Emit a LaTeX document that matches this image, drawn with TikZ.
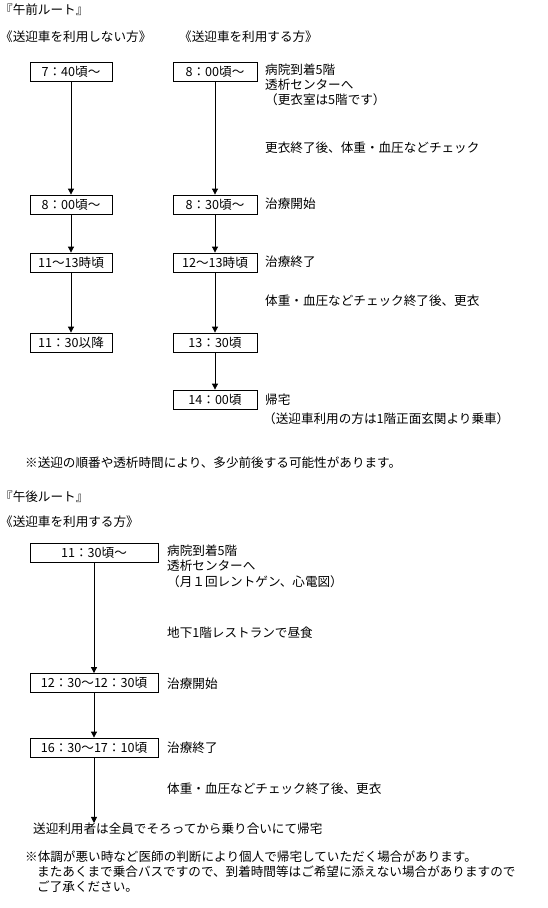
\documentclass[tikz,border=0pt]{standalone}
\usepackage{fontspec}
\setmainfont{Noto Sans CJK JP}
\usetikzlibrary{arrows.meta}
\begin{document}
\begin{tikzpicture}[x=1pt,y=-1pt,
  every node/.style={font=\fontsize{12.6}{14}\selectfont, inner sep=0pt},
  tbox/.style={draw, line width=0.8pt, minimum height=19pt, align=center},
  lcol/.style={tbox, minimum width=82pt},
  rcol/.style={tbox, minimum width=84pt},
  pcol/.style={tbox, minimum width=128pt},
  lbl/.style={anchor=west},
  conn/.style={line width=0.8pt, -{Triangle[length=6pt,width=6pt]}}]
\fill[white] (0,0) rectangle (548,908);
\useasboundingbox (0,0) rectangle (548,908);

% ---- morning ----
\node[lbl] (amtitle) at (0,10) {『午前ルート』};
\node[lbl] (amleft) at (0,37) {《送迎車を利用しない方》};
\node[lbl] (amright) at (179,37) {《送迎車を利用する方》};

\node[lcol] (l1) at (71,72) {7：40頃～};
\node[lcol] (l2) at (71,204.5) {8：00頃～};
\node[lcol] (l3) at (71,262.5) {11～13時頃};
\node[lcol] (l4) at (71,342.5) {11：30以降};

\node[rcol] (r1) at (215,72) {8：00頃～};
\node[rcol] (r2) at (215,204.5) {8：30頃～};
\node[rcol] (r3) at (215,262.5) {12～13時頃};
\node[rcol] (r4) at (215,342.5) {13：30頃};
\node[rcol] (r5) at (215,399.5) {14：00頃};

\draw[conn] (l1) -- (l2);
\draw[conn] (l2) -- (l3);
\draw[conn] (l3) -- (l4);
\draw[conn] (r1) -- (r2);
\draw[conn] (r2) -- (r3);
\draw[conn] (r3) -- (r4);
\draw[conn] (r4) -- (r5);

\node[lbl] (t1a) at (265,70) {病院到着5階};
\node[lbl] (t1b) at (265,85) {透析センターへ};
\node[lbl] (t1c) at (265,100) {（更衣室は5階です）};
\node[lbl] (t2) at (265,148) {更衣終了後、体重・血圧などチェック};
\node[lbl] (t3) at (265,204) {治療開始};
\node[lbl] (t4) at (265,262) {治療終了};
\node[lbl] (t5) at (265,301) {体重・血圧などチェック終了後、更衣};
\node[lbl] (t6) at (265,400) {帰宅};
\node[lbl] (t7) at (263,419) {（送迎車利用の方は1階正面玄関より乗車）};
\node[lbl] (note1) at (25,463) {※送迎の順番や透析時間により、多少前後する可能性があります。};

% ---- afternoon ----
\node[lbl] (pmtitle) at (0,497) {『午後ルート』};
\node[lbl] (pmsub) at (0,522) {《送迎車を利用する方》};

\node[pcol] (p1) at (94,552.5) {11：30頃～};
\node[pcol] (p2) at (94,683) {12：30～12：30頃};
\node[pcol] (p3) at (94,747.5) {16：30～17：10頃};
\node[lbl] (home) at (33,829) {送迎利用者は全員でそろってから乗り合いにて帰宅};

\draw[conn] (p1) -- (p2);
\draw[conn] (p2) -- (p3);
\draw[conn] (p3) -- (p3.south |- home.north);

\node[lbl] (u1a) at (167,551) {病院到着5階};
\node[lbl] (u1b) at (167,566) {透析センターへ};
\node[lbl] (u1c) at (167,582) {（月１回レントゲン、心電図）};
\node[lbl] (u2) at (167,633) {地下1階レストランで昼食};
\node[lbl] (u3) at (167,684) {治療開始};
\node[lbl] (u4) at (167,748) {治療終了};
\node[lbl] (u5) at (167,789) {体重・血圧などチェック終了後、更衣};

\node[lbl] (n2a) at (25,857) {※体調が悪い時など医師の判断により個人で帰宅していただく場合があります。};
\node[lbl] (n2b) at (37,872) {またあくまで乗合バスですので、到着時間等はご希望に添えない場合がありますので};
\node[lbl] (n2c) at (37,887) {ご了承ください。};
\end{tikzpicture}
\end{document}
